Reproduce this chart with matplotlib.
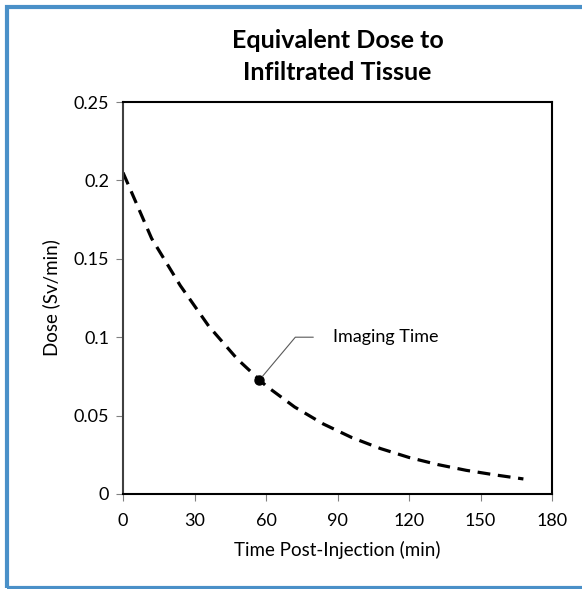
import numpy as np
import matplotlib.pyplot as plt
from matplotlib.patches import Rectangle

plt.rcParams['font.family'] = ['Lato', 'DejaVu Sans']

# dose rate readings (Sv/min) against time after injection (min)
time_min = [0, 12, 24, 36, 48, 60, 72, 84, 96, 108, 120, 132, 144, 156, 168]
dose = [0.205, 0.163, 0.133, 0.107, 0.086, 0.069, 0.0555, 0.0447, 0.036,
        0.029, 0.0233, 0.0188, 0.0151, 0.0122, 0.0096]

imaging_time = 57
imaging_dose = 0.073

x_ticks = [0, 30, 60, 90, 120, 150, 180]
y_ticks = [0, 0.05, 0.1, 0.15, 0.2, 0.25]
y_tick_labels = ["0", "0.05", "0.1", "0.15", "0.2", "0.25"]

fig = plt.figure(figsize=(5.82, 5.89), dpi=100)
W, H = 582, 589

# outer chart frame
fig.patches.append(Rectangle((7 / W, 1 / H), 1.2, 1 - 8 / H, transform=fig.transFigure,
                             fill=False, edgecolor="#4a90c8", linewidth=3.0))

ax = fig.add_axes([123 / W, 1 - 494 / H, (552 - 123) / W, (494 - 102) / H])

ax.plot(time_min, dose, color="black", linewidth=2.3, linestyle=(0, (4, 2.4)),
        dash_capstyle="butt")
ax.plot([imaging_time], [imaging_dose], "o", color="black", markersize=6.5)

ax.annotate("Imaging Time", xy=(imaging_time + 1.5, imaging_dose + 0.002),
            xytext=(88, 0.1), fontsize=13, va="center", ha="left",
            arrowprops=dict(arrowstyle="-", color="#595959", linewidth=0.8,
                            connectionstyle="angle,angleA=0,angleB=50,rad=0",
                            shrinkA=12, shrinkB=0))

ax.set_xlim(0, 180)
ax.set_ylim(0, 0.25)
ax.set_xticks(x_ticks)
ax.set_yticks(y_ticks)
ax.set_yticklabels(y_tick_labels)
ax.tick_params(axis="both", direction="out", length=5, width=0.8, color="#808080",
               labelsize=13, pad=5)
ax.tick_params(axis="x", length=5, pad=9)

for side in ["top", "right", "bottom", "left"]:
    ax.spines[side].set_color("black")
    ax.spines[side].set_linewidth(1.5)
ax.spines["left"].set_color("#404040")

ax.set_xlabel("Time Post-Injection (min)", fontsize=13.5, labelpad=8)
ax.set_ylabel("Dose (Sv/min)", fontsize=13.5, labelpad=10)
ax.set_title("Equivalent Dose to\nInfiltrated Tissue", fontsize=18, fontweight="bold",
             pad=16, linespacing=1.45)

fig.savefig("out.png", dpi=100)
